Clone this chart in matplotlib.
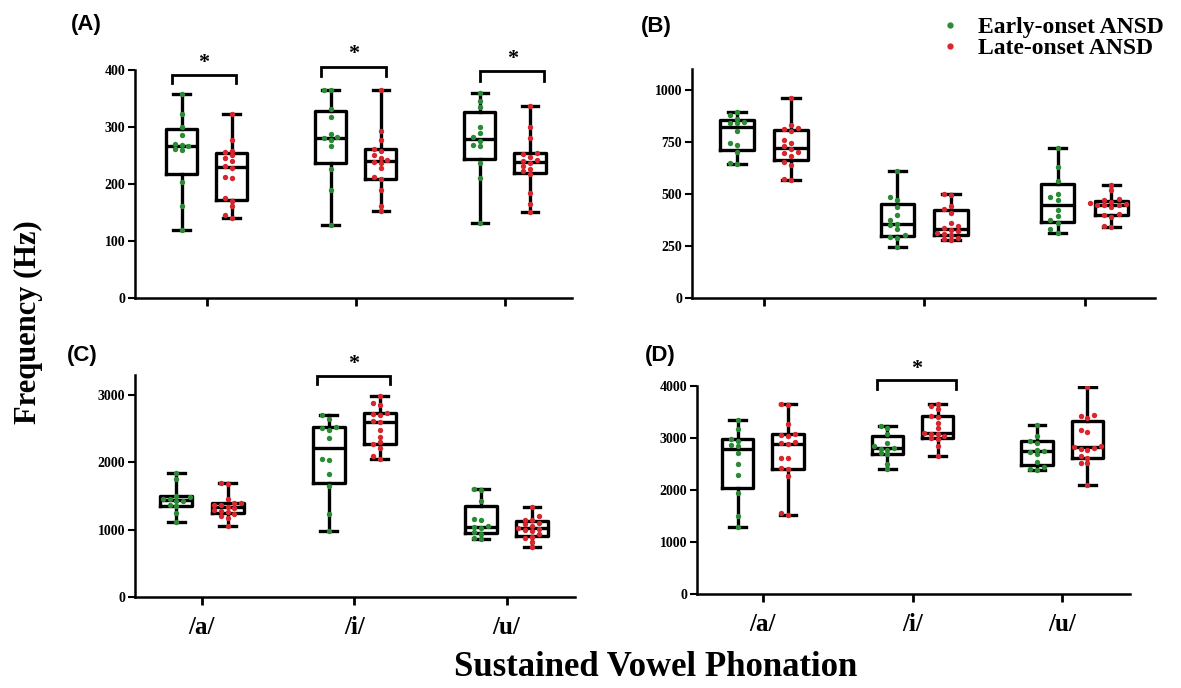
import numpy as np
import matplotlib
matplotlib.use("Agg")
import matplotlib.pyplot as plt
from matplotlib.lines import Line2D

vowels = ["/a/", "/i/", "/u/"]
groups = ["Early-onset ANSD", "Late-onset ANSD"]
panelNames = ["(A)", "(B)", "(C)", "(D)"]

# values per vowel (/a/, /i/, /u/)
panelA_early = [
    [120, 162, 204, 260, 262, 266, 268, 270, 286, 300, 322, 357],
    [128, 190, 227, 266, 278, 280, 282, 288, 317, 332, 365, 365],
    [132, 210, 236, 266, 268, 276, 282, 290, 300, 335, 345, 360],
]
panelA_late = [
    [140, 145, 162, 170, 175, 210, 212, 228, 232, 240, 246, 250, 256, 258, 277, 323],
    [153, 162, 190, 208, 212, 228, 236, 238, 242, 245, 250, 258, 262, 278, 293, 365],
    [150, 165, 185, 218, 222, 226, 232, 236, 240, 242, 248, 252, 255, 280, 300, 337],
]
panelB_early = [
    [645, 650, 700, 735, 745, 800, 838, 840, 845, 860, 880, 895],
    [243, 290, 295, 300, 330, 350, 355, 372, 400, 435, 470, 485, 608],
    [310, 330, 360, 375, 395, 420, 470, 485, 500, 560, 630, 722],
]
panelB_late = [
    [565, 570, 640, 655, 680, 695, 700, 715, 728, 745, 760, 800, 810, 815, 830, 960],
    [278, 285, 290, 302, 306, 310, 320, 328, 335, 345, 360, 410, 425, 440, 495, 500],
    [340, 345, 390, 398, 405, 438, 444, 444, 448, 452, 456, 460, 468, 475, 520, 543],
]
panelC_early = [
    [1120, 1250, 1350, 1370, 1420, 1430, 1455, 1460, 1480, 1500, 1760, 1850],
    [980, 1230, 1650, 1830, 2040, 2050, 2370, 2480, 2510, 2530, 2650, 2710],
    [860, 880, 940, 960, 1020, 1040, 1055, 1150, 1160, 1420, 1590, 1600],
]
panelC_late = [
    [1050, 1180, 1200, 1240, 1260, 1280, 1300, 1320, 1340, 1360, 1370, 1390, 1400, 1450, 1680, 1700],
    [2050, 2100, 2220, 2280, 2300, 2380, 2480, 2600, 2620, 2700, 2720, 2730, 2850, 2880, 2990],
    [750, 820, 870, 890, 930, 980, 1000, 1010, 1030, 1050, 1080, 1100, 1140, 1150, 1200, 1330],
]
panelD_early = [
    [1290, 1500, 1950, 2300, 2500, 2720, 2850, 2860, 2950, 2990, 3180, 3350],
    [2400, 2500, 2700, 2720, 2780, 2800, 2820, 2850, 2900, 3080, 3200, 3230],
    [2380, 2400, 2450, 2550, 2700, 2740, 2760, 2780, 2900, 2950, 3050, 3250],
]
panelD_late = [
    [1520, 1560, 2280, 2400, 2420, 2610, 2620, 2880, 2910, 2920, 3050, 3070, 3080, 3280, 3640, 3650],
    [2660, 2840, 2980, 3000, 3050, 3080, 3090, 3100, 3200, 3300, 3410, 3420, 3560, 3620, 3650],
    [2100, 2520, 2530, 2620, 2650, 2780, 2800, 2820, 2830, 2850, 3120, 3150, 3380, 3420, 3450, 3980],
]

yTicks = [
    [0, 100, 200, 300, 400],
    [0, 250, 500, 750, 1000],
    [0, 1000, 2000, 3000],
    [0, 1000, 2000, 3000, 4000],
]
yMax = [400, 1100, 3300, 4000]

# significant pairs: (vowel index, bracket y, leg bottom y, star y)
sigA = [(0, 392, 377, 413), (1, 406, 390, 428), (2, 398, 381, 419)]
sigC = [(1, 3287, 3159, 3460)]
sigD = [(1, 4122, 3955, 4340)]

GREEN = "#2a8a35"
RED = "#d7262d"
SERIF = "Liberation Serif"

panelRects = [
    [0.1143, 0.5669, 0.370, 0.3314],
    [0.586, 0.5669, 0.392, 0.333],
    [0.1143, 0.1323, 0.3726, 0.3227],
    [0.590, 0.1366, 0.3666, 0.302],
]
xLimits = [(-0.48, 2.45), (-0.45, 2.44), (-0.44, 2.45), (-0.44, 2.45)]
bracketSpans = [
    [(-0.234, 0.2), (-0.234, 0.205), (-0.167, 0.265)],
    [],
    [(-0.244, 0.234)],
    [(-0.235, 0.287)],
]
OFFSET = 0.168


def BoxStats(values):
    q1, med, q3 = np.percentile(values, [25, 50, 75], method="weibull")
    return dict(med=med, q1=q1, q3=q3, whislo=min(values), whishi=max(values), fliers=[])


def SwarmOffsets(values, yThreshold, step=0.045):
    values = np.asarray(values, dtype=float)
    offsets = np.zeros(len(values))
    placed = []
    for idx in np.argsort(values):
        y = values[idx]
        cand = 0.0
        for k in range(0, 12):
            cand = 0.0 if k == 0 else ((k + 1) // 2) * step * (1 if k % 2 == 0 else -1)
            clash = any(abs(y - py) < yThreshold and abs(cand - po) < step * 0.9 for py, po in placed)
            if not clash:
                break
        offsets[idx] = cand
        placed.append((y, cand))
    return offsets


def DrawPanel(ax, early, late, ticks, top, xlim, sigs, spans):
    positionsE = [i - OFFSET for i in range(3)]
    positionsL = [i + OFFSET for i in range(3)]
    stats = [BoxStats(v) for v in early] + [BoxStats(v) for v in late]
    lw = 2.4
    ax.bxp(stats, positions=positionsE + positionsL, widths=0.21, capwidths=0.11,
           showfliers=False,
           boxprops=dict(color="black", linewidth=lw),
           whiskerprops=dict(color="black", linewidth=lw),
           capprops=dict(color="black", linewidth=lw),
           medianprops=dict(color="black", linewidth=lw),
           zorder=2)
    thr = top * 0.019
    for i in range(3):
        offE = SwarmOffsets(early[i], thr)
        offL = SwarmOffsets(late[i], thr)
        ax.scatter(positionsE[i] + offE, early[i], s=15, color=GREEN, zorder=3, linewidths=0)
        ax.scatter(positionsL[i] + offL, late[i], s=15, color=RED, zorder=3, linewidths=0)

    for (vi, yLine, yLeg, yStar), (x0, x1) in zip(sigs, spans):
        xs = [vi + x0, vi + x0, vi + x1, vi + x1]
        ys = [yLeg, yLine, yLine, yLeg]
        ax.plot(xs, ys, color="black", linewidth=2.0, clip_on=False, solid_joinstyle="miter")
        ax.text(vi + (x0 + x1) / 2, yStar, "*", ha="center", va="center",
                fontsize=16, fontweight="bold", family=SERIF, clip_on=False)

    ax.set_xlim(*xlim)
    ax.set_ylim(0, top)
    ax.set_yticks(ticks)
    ax.set_xticks(range(3))
    for side in ["top", "right"]:
        ax.spines[side].set_visible(False)
    for side in ["left", "bottom"]:
        ax.spines[side].set_linewidth(1.8)
    ax.tick_params(axis="y", length=5, width=1.5, labelsize=10, pad=2)
    ax.tick_params(axis="x", length=6, width=2, labelsize=18, pad=8)
    for lab in ax.get_yticklabels():
        lab.set_family(SERIF)
        lab.set_fontweight("bold")


fig = plt.figure(figsize=(11.81, 6.88), dpi=100)
allData = [
    (panelA_early, panelA_late, sigA),
    (panelB_early, panelB_late, []),
    (panelC_early, panelC_late, sigC),
    (panelD_early, panelD_late, sigD),
]
axes = []
for p in range(4):
    ax = fig.add_axes(panelRects[p])
    early, late, sigs = allData[p]
    DrawPanel(ax, early, late, yTicks[p], yMax[p], xLimits[p], sigs, bracketSpans[p])
    if p < 2:
        ax.set_xticklabels([])
    else:
        ax.set_xticklabels(vowels, family=SERIF, fontweight="bold", fontsize=18)
    axes.append(ax)

labelPos = [(0.060, 0.965), (0.543, 0.962), (0.057, 0.483), (0.546, 0.483)]
for name, (x, y) in zip(panelNames, labelPos):
    fig.text(x, y, name, ha="left", va="center", fontsize=16, fontweight="bold",
             family="Liberation Sans")

fig.text(0.024, 0.532, "Frequency (Hz)", rotation=90, ha="center", va="center",
         fontsize=22, fontweight="bold", family=SERIF)
fig.text(0.555, 0.03, "Sustained Vowel Phonation", ha="center", va="center",
         fontsize=25, fontweight="bold", family=SERIF)

handles = [
    Line2D([], [], marker="o", linestyle="none", markersize=3.5, color=GREEN, label=groups[0]),
    Line2D([], [], marker="o", linestyle="none", markersize=3.5, color=RED, label=groups[1]),
]
fig.legend(handles=handles, loc="upper left", bbox_to_anchor=(0.786, 0.99), frameon=False,
           prop=dict(family=SERIF, weight="bold", size=17), handletextpad=0.7,
           labelspacing=0.0, handlelength=1.0, borderaxespad=0)

fig.savefig("out.png", dpi=100)
